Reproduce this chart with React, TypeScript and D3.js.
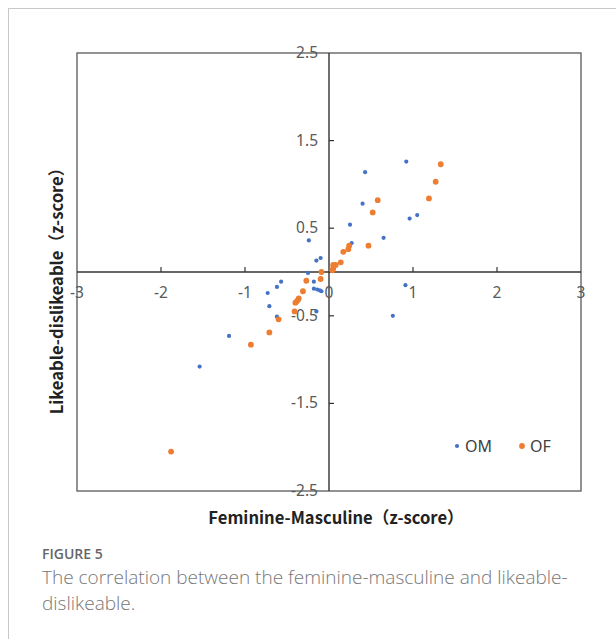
import React from 'react';
import * as d3 from 'd3';

// OM series (blue)
const omX = [0.92, 0.43, 0.40, 0.25, 0.96, 1.05, -0.24, 0.65, 0.27, -0.15, -0.10, -0.25, -0.18, -0.18, -0.14, -0.11, -0.09, -0.57, -0.62, -0.73, -0.71, -0.62, -0.15, -1.19, -1.54, 0.91, 0.76];
const omY = [1.26, 1.14, 0.78, 0.54, 0.61, 0.65, 0.36, 0.39, 0.33, 0.13, 0.16, -0.01, -0.11, -0.19, -0.20, -0.21, -0.22, -0.11, -0.17, -0.24, -0.39, -0.51, -0.45, -0.73, -1.08, -0.15, -0.50];

// OF series (orange)
const ofX = [1.33, 1.27, 0.58, 1.19, 0.52, 0.47, 0.24, 0.23, 0.17, 0.14, 0.08, 0.05, 0.05, 0.04, -0.09, -0.10, -0.27, -0.31, -0.36, -0.37, -0.39, -0.40, -0.41, -0.60, -0.71, -0.93, -1.88];
const ofY = [1.23, 1.03, 0.82, 0.84, 0.68, 0.30, 0.30, 0.26, 0.23, 0.11, 0.08, 0.08, 0.04, 0.02, 0.00, -0.08, -0.10, -0.22, -0.30, -0.32, -0.34, -0.35, -0.45, -0.54, -0.69, -0.83, -2.05];

const xTicks = [-3, -2, -1, 0, 1, 2, 3];
const yTicks = [2.5, 1.5, 0.5, -0.5, -1.5, -2.5];

const seriesNames = ['OM', 'OF'];
const seriesColors = ['#4472C4', '#ED7D31'];

const W = 616;
const H = 639;
const plot = { left: 77, right: 581, top: 53, bottom: 491 };

const App: React.FC = () => {
  const x = d3.scaleLinear().domain([-3, 3]).range([plot.left, plot.right]);
  const y = d3.scaleLinear().domain([-2.5, 2.5]).range([plot.bottom, plot.top]);

  const om = omX.map((v, i) => ({ x: v, y: omY[i] }));
  const of = ofX.map((v, i) => ({ x: v, y: ofY[i] }));

  const x0 = x(0);
  const y0 = y(0);
  const tickFont = "'Noto Sans', 'DejaVu Sans', sans-serif";
  const titleFont = "'Noto Sans CJK SC', 'Noto Sans', sans-serif";

  return (
    <svg width={W} height={H} style={{ position: 'absolute', left: 0, top: 0, background: '#fff' }}>
      {/* page border */}
      <line x1={8.5} y1={8} x2={8.5} y2={H} stroke="#c8c8c8" strokeWidth={1} />
      <line x1={8} y1={8.5} x2={W} y2={8.5} stroke="#c8c8c8" strokeWidth={1} />

      {/* plot frame */}
      <rect x={plot.left} y={plot.top} width={plot.right - plot.left} height={plot.bottom - plot.top}
        fill="none" stroke="#595959" strokeWidth={1.3} />

      {/* axes through origin */}
      <line x1={plot.left} x2={plot.right} y1={y0} y2={y0} stroke="#333" strokeWidth={1.4} />
      <line x1={x0} x2={x0} y1={plot.top} y2={plot.bottom} stroke="#333" strokeWidth={1.4} />

      {/* x ticks */}
      {xTicks.map(t => (
        <g key={'xt' + t}>
          {t !== -3 && t !== 3 && t !== 0 && (
            <line x1={x(t)} x2={x(t)} y1={y0} y2={y0 - 5} stroke="#333" strokeWidth={1.2} />
          )}
          <text x={x(t)} y={y0 + 26} textAnchor="middle" fontFamily={tickFont} fontSize={15.5} fill="#595959">
            {t < 0 ? '-' + Math.abs(t) : String(t)}
          </text>
        </g>
      ))}

      {/* y ticks */}
      {yTicks.map(t => (
        <g key={'yt' + t}>
          {Math.abs(t) !== 2.5 && (
            <line x1={x0} x2={x0 + 5} y1={y(t)} y2={y(t)} stroke="#333" strokeWidth={1.2} />
          )}
          <text x={x0 - 11} y={y(t) + 5} textAnchor="end" fontFamily={tickFont} fontSize={15.5} fill="#595959">
            {t < 0 ? '-' + Math.abs(t) : String(t)}
          </text>
        </g>
      ))}

      {/* points */}
      {om.map((d, i) => (
        <circle key={'om' + i} cx={x(d.x)} cy={y(d.y)} r={2.1} fill={seriesColors[0]} />
      ))}
      {of.map((d, i) => (
        <circle key={'of' + i} cx={x(d.x)} cy={y(d.y)} r={2.9} fill={seriesColors[1]} />
      ))}

      {/* legend */}
      {seriesNames.map((n, i) => (
        <g key={n} transform={`translate(${457 + i * 65},446)`}>
          <circle cx={0} cy={0} r={i === 0 ? 2.1 : 2.9} fill={seriesColors[i]} />
          <text x={8} y={6} fontFamily={tickFont} fontSize={16} fill="#404040">{n}</text>
        </g>
      ))}

      {/* axis titles */}
      <text x={336} y={524} textAnchor="middle" fontFamily={titleFont}
        fontSize={16.6} fontWeight="bold" fill="#222">
        Feminine-Masculine（z-score）
      </text>
      <text transform={`translate(63,287) rotate(-90)`} textAnchor="middle"
        fontFamily={titleFont} fontSize={16.6} fontWeight="bold" fill="#222">
        Likeable-dislikeable（z-score）
      </text>

      {/* caption */}
      <text x={42} y={559} fontFamily="'Open Sans', sans-serif" fontSize={14} fontWeight={600} fill="#666">
        FIGURE 5
      </text>
      <text x={42} y={584} fontFamily="'Open Sans', sans-serif" fontSize={19} fontWeight={300} fill="#777">
        The correlation between the feminine-masculine and likeable-
      </text>
      <text x={42} y={610} fontFamily="'Open Sans', sans-serif" fontSize={19} fontWeight={300} fill="#777">
        dislikeable.
      </text>
    </svg>
  );
};

export default App;
